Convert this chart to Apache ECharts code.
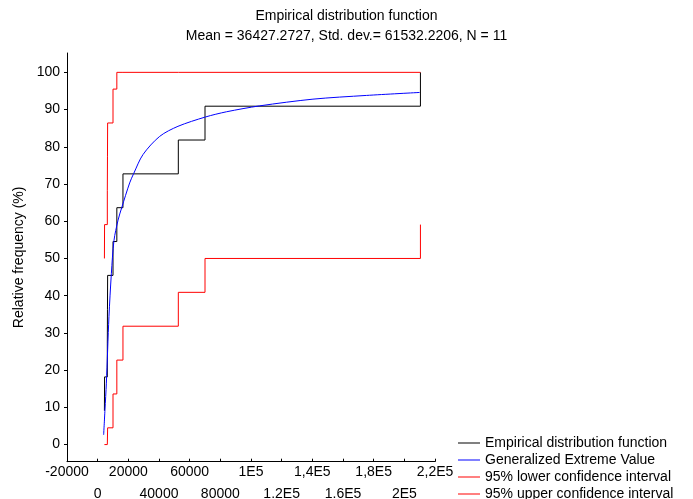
<!DOCTYPE html>
<html lang="en">
<head>
<meta charset="UTF-8">
<title>Empirical distribution function</title>
<script src="https://cdn.jsdelivr.net/npm/echarts@6/dist/echarts.min.js"></script>
<style>
    html, body { margin: 0; padding: 0; background: #fff; }
    #container { width: 693px; height: 499px; }
</style>
</head>
<body>
<div id="container"></div>
<script type="text/javascript">
    // sorted sample values (x) and the empirical frequencies (%)
    var sampleX = [4400, 4500, 6300, 6400, 6500, 10000, 12500, 16500, 52600, 70000, 210500];
    var ecdfY = [9.09, 18.18, 27.27, 36.36, 45.45, 54.55, 63.64, 72.73, 81.82, 90.91, 100];
    // 95% confidence band (%)
    var lowerY = [0, 0, 0, 0, 4.5, 13.6, 22.7, 31.8, 40.9, 50.0, 59.1];
    var upperY = [50.0, 59.1, 68.2, 77.3, 86.4, 95.5, 100, 100, 100, 100, 100];
    // fitted Generalized Extreme Value curve
    var gevX = [3900, 4760, 5670, 7370, 8930, 10630, 13300, 15650, 20870, 23480, 29540, 40440, 52370, 70240, 83940, 105700, 140420, 175250, 210000];
    var gevY = [2.6, 9.3, 16.5, 34.4, 45.9, 54.8, 60.3, 63.6, 70.3, 72.8, 77.9, 82.8, 85.5, 88.0, 89.4, 91.0, 92.8, 93.8, 94.6];
    // axis ticks
    var xTickLabels = ['-20000', '0', '20000', '40000', '60000', '80000', '1E5', '1.2E5', '1,4E5', '1.6E5', '1,8E5', '2E5', '2,2E5'];
    var yTicks = [0, 10, 20, 30, 40, 50, 60, 70, 80, 90, 100];

    var xMin = -20000, xMax = 220000, xStep = 20000;
    var font = "'Liberation Sans', Arial, sans-serif";

    function zip(xs, ys) {
        return xs.map(function (x, i) { return [x, ys[i]]; });
    }
    // upper row gets even ticks, lower row odd ticks
    function xLabel(row) {
        return function (value) {
            var i = Math.round((value - xMin) / xStep);
            if (i % 2 !== row) return '';
            return xTickLabels[i] || '';
        };
    }

    var dom = document.getElementById('container');
    var myChart = echarts.init(dom, null, { renderer: 'canvas' });

    var option = {
        animation: false,
        textStyle: { fontFamily: font },
        title: {
            text: 'Empirical distribution function',
            subtext: 'Mean = 36427.2727, Std. dev.= 61532.2206, N = 11',
            left: 'center',
            top: 6,
            padding: 0,
            itemGap: 0,
            textStyle: { fontSize: 14, fontWeight: 'normal', color: '#000', fontFamily: font, lineHeight: 20 },
            subtextStyle: { fontSize: 14, color: '#000', fontFamily: font, lineHeight: 20 }
        },
        legend: {
            orient: 'vertical',
            left: 458,
            top: 436,
            height: 120,
            padding: 0,
            icon: 'rect',
            itemWidth: 22,
            itemHeight: 1,
            itemGap: 3,
            textStyle: { fontSize: 14, color: '#000', fontFamily: font, lineHeight: 13 },
            data: ['Empirical distribution function', 'Generalized Extreme Value',
                   '95% lower confidence interval', '95% upper confidence interval']
        },
        grid: { left: 67, right: 258, top: 53, bottom: 37.3, outerBoundsMode: 'none' },
        xAxis: [
            {
                type: 'value',
                min: xMin, max: xMax, interval: xStep,
                axisLine: { show: true, onZero: false, lineStyle: { color: '#000' } },
                axisTick: { show: true, inside: true, length: 3, lineStyle: { color: '#000' } },
                axisLabel: { show: true, margin: 3, fontSize: 14, color: '#000', fontFamily: font,
                             showMinLabel: true, showMaxLabel: true, formatter: xLabel(0) },
                splitLine: { show: false }
            },
            {
                type: 'value',
                min: xMin, max: xMax, interval: xStep,
                position: 'bottom',
                axisLine: { show: false },
                axisTick: { show: false },
                axisLabel: { show: true, margin: 25, fontSize: 14, color: '#000', fontFamily: font,
                             showMinLabel: true, showMaxLabel: true, formatter: xLabel(1) },
                splitLine: { show: false }
            }
        ],
        yAxis: {
            type: 'value',
            min: -4.6, max: 105.2,
            name: 'Relative frequency (%)',
            nameLocation: 'middle',
            nameGap: 37,
            nameTextStyle: { fontSize: 14, color: '#000', fontFamily: font },
            axisLine: { show: true, onZero: false, lineStyle: { color: '#000' } },
            axisTick: { show: true, length: 3, customValues: yTicks, lineStyle: { color: '#000' } },
            axisLabel: { margin: 7, fontSize: 14, color: '#000', fontFamily: font, customValues: yTicks },
            splitLine: { show: false }
        },
        series: [
            {
                name: 'Empirical distribution function',
                type: 'line',
                step: 'end',
                showSymbol: false,
                color: '#000000',
                lineStyle: { width: 1 },
                data: zip(sampleX, ecdfY)
            },
            {
                name: 'Generalized Extreme Value',
                type: 'line',
                smooth: 0.3,
                showSymbol: false,
                color: '#0000ff',
                lineStyle: { width: 1 },
                data: zip(gevX, gevY)
            },
            {
                name: '95% lower confidence interval',
                type: 'line',
                step: 'end',
                showSymbol: false,
                color: '#ff0000',
                lineStyle: { width: 1 },
                data: zip(sampleX, lowerY)
            },
            {
                name: '95% upper confidence interval',
                type: 'line',
                step: 'end',
                showSymbol: false,
                color: '#ff0000',
                lineStyle: { width: 1 },
                data: zip(sampleX, upperY)
            }
        ]
    };
    myChart.setOption(option);
    window.addEventListener('resize', myChart.resize);
</script>
</body>
</html>
